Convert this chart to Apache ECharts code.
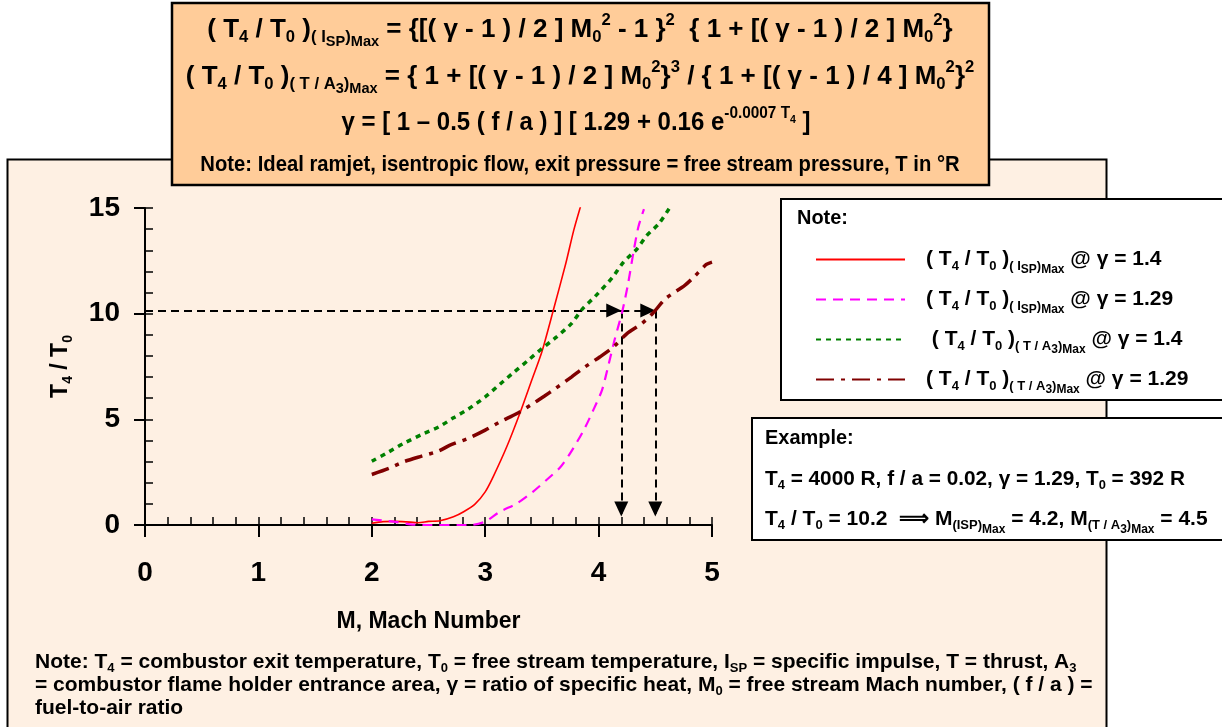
<!DOCTYPE html>
<html><head><meta charset="utf-8">
<script src="https://cdn.jsdelivr.net/npm/echarts@6/dist/echarts.min.js"></script>
<style>html,body{margin:0;padding:0;background:#fff}#c{width:1222px;height:727px}</style>
</head><body><div id="c"></div>
<script>
// ---------- data ----------
const xTicks = [0, 1, 2, 3, 4, 5];
const yTicks = [0, 5, 10, 15];

const ispG14X = [2.0, 2.1, 2.2, 2.3, 2.41, 2.5, 2.6, 2.72, 2.81, 2.91, 3.0, 3.07, 3.19, 3.31, 3.41, 3.5, 3.6, 3.71, 3.78, 3.84];
const ispG14Y = [0.08, 0.16, 0.17, 0.15, 0.11, 0.17, 0.2, 0.39, 0.63, 0.99, 1.57, 2.28, 3.7, 5.35, 6.85, 8.2, 10.15, 12.36, 13.93, 15.06];

const ispG129X = [2.0, 2.19, 2.34, 2.48, 2.87, 3.0, 3.13, 3.28, 3.42, 3.54, 3.66, 3.75, 3.87, 3.95, 4.03, 4.09, 4.14, 4.21, 4.26, 4.31, 4.35, 4.40];
const ispG129Y = [0.27, 0.16, 0.03, 0, 0, 0.16, 0.63, 1.02, 1.57, 2.13, 2.72, 3.4, 4.5, 5.4, 6.38, 7.64, 8.74, 10.13, 11.42, 12.99, 14.09, 14.95];

const taG14X = [2.0, 2.15, 2.28, 2.44, 2.59, 2.72, 2.85, 3.0, 3.13, 3.24, 3.38, 3.5, 3.63, 3.76, 3.86, 3.97, 4.12, 4.22, 4.34, 4.42, 4.53, 4.63];
const taG14Y = [3.02, 3.46, 3.86, 4.28, 4.64, 5.07, 5.48, 6.06, 6.66, 7.17, 7.8, 8.35, 8.9, 9.53, 10.24, 10.82, 11.7, 12.44, 13.07, 13.67, 14.25, 15.04];

const taG129X = [2.0, 2.15, 2.28, 2.44, 2.59, 2.69, 2.85, 3.0, 3.13, 3.28, 3.4, 3.52, 3.62, 3.76, 3.88, 4.01, 4.13, 4.25, 4.38, 4.48, 4.59, 4.76, 4.84, 4.95, 5.0];
const taG129Y = [2.39, 2.68, 2.99, 3.26, 3.5, 3.78, 4.1, 4.49, 4.88, 5.28, 5.67, 6.09, 6.46, 7.0, 7.48, 7.95, 8.42, 9.06, 9.53, 10.03, 10.71, 11.34, 11.73, 12.33, 12.44];

const seriesNames = [
  '(T4 / T0)(ISP)Max @ γ = 1.4',
  '(T4 / T0)(ISP)Max @ γ = 1.29',
  '(T4 / T0)(T / A3)Max @ γ = 1.4',
  '(T4 / T0)(T / A3)Max @ γ = 1.29'
];
const exampleRatio = [10.15];        // drawn level of T4/T0 (labelled 10.2)
const exampleRatioLabel = ['10.2'];
const exampleMach = [4.2, 4.5];      // M(ISP)Max, M(T/A3)Max
const arrowTipY = [0.4];

// ---------- styling helpers ----------
const F = "'Liberation Sans', Arial, sans-serif";
function mkRich(base, L) {
  const c = {fontFamily: F, fontWeight: 'bold', color: '#000', fill: '#000', lineHeight: L};
  const r = (k) => Math.round(base * k);
  return {
    t:  Object.assign({}, c, {fontSize: base}),
    p:  Object.assign({}, c, {fontSize: base, padding: [0, 0, 0, 16]}),
    s:  Object.assign({}, c, {fontSize: r(0.62), padding: [r(0.6), 0, 0, 0]}),
    ss: Object.assign({}, c, {fontSize: r(0.58), padding: [r(0.98), 0, 0, 0]}),
    u:  Object.assign({}, c, {fontSize: r(0.62), padding: [0, 0, r(0.7), 0]}),
    uu: Object.assign({}, c, {fontSize: r(0.45), padding: [0, 0, r(0.25), 0]})
  };
}
function txt(x, y, text, base, L, align, sx) {
  return {
    type: 'text', x: x, y: y, z: 50, scaleX: sx || 1,
    style: {
      text: text, rich: mkRich(base, L),
      fontFamily: F, fontWeight: 'bold', fontSize: base, lineHeight: L,
      fill: '#000', align: align || 'left', verticalAlign: 'middle'
    }
  };
}
const legendLabels = [
  '{p|(} T{s|4} / T{s|0} ){s|( I}{ss|SP}{s|)}{ss|Max} @ γ = 1.4',
  '{p|(} T{s|4} / T{s|0} ){s|( I}{ss|SP}{s|)}{ss|Max} @ γ = 1.29',
  '{p| (} T{s|4} / T{s|0} ){s|( T / A}{ss|3}{s|)}{ss|Max} @ γ = 1.4',
  '{p|(} T{s|4} / T{s|0} ){s|( T / A}{ss|3}{s|)}{ss|Max} @ γ = 1.29'
];

function pairs(xs, ys) { return xs.map((x, i) => [x, ys[i]]); }

const lvl = exampleRatio[0], m1 = exampleMach[0], m2 = exampleMach[1], tip = arrowTipY[0];

const chart = echarts.init(document.getElementById('c'), null, {renderer: 'canvas'});
const axisTxt = {color: '#000', fontFamily: F, fontWeight: 'bold', fontSize: 28};
chart.setOption({
  backgroundColor: '#ffffff',
  animation: false,
  grid: [{left: 145, top: 208, width: 567, height: 317, containLabel: false}],
  xAxis: [
    {type: 'value', gridIndex: 0, position: 'bottom', min: xTicks[0], max: xTicks[xTicks.length - 1], interval: 1,
     axisLine: {lineStyle: {color: '#000', width: 2}},
     axisTick: {inside: false, length: 12, lineStyle: {color: '#000', width: 2}},
     axisLabel: Object.assign({margin: 34, formatter: (v) => xTicks.includes(v) ? String(v) : ''}, axisTxt),
     splitLine: {show: false},
     name: 'M, Mach Number', nameLocation: 'middle', nameGap: 85,
     nameTextStyle: {color: '#000', fontFamily: F, fontWeight: 'bold', fontSize: 23}},
    {type: 'value', gridIndex: 0, position: 'bottom', min: 0, max: 5, interval: 0.2,
     axisLine: {show: false}, axisLabel: {show: false}, splitLine: {show: false},
     axisTick: {inside: true, length: 8, lineStyle: {color: '#000', width: 1.5}}}
  ],
  yAxis: [
    {type: 'value', gridIndex: 0, position: 'left', min: yTicks[0], max: yTicks[yTicks.length - 1], interval: 5,
     axisLine: {show: true, lineStyle: {color: '#000', width: 2}},
     axisTick: {show: true, inside: false, length: 11, lineStyle: {color: '#000', width: 2}},
     axisLabel: Object.assign({margin: 25, formatter: (v) => yTicks.includes(v) ? String(v) : ''}, axisTxt),
     splitLine: {show: false},
     name: 'T{s|4} / T{s|0}', nameLocation: 'middle', nameGap: 70, nameRotate: 90,
     nameTextStyle: {color: '#000', fontFamily: F, fontWeight: 'bold', fontSize: 23, lineHeight: 28, rich: mkRich(23, 28)}},
    {type: 'value', gridIndex: 0, position: 'left', min: 0, max: 15, interval: 1,
     axisLine: {show: false}, axisLabel: {show: false}, splitLine: {show: false},
     axisTick: {show: true, inside: true, length: 8, lineStyle: {color: '#000', width: 1.5}}}
  ],
  legend: {
    data: seriesNames, orient: 'vertical', left: 810, top: 238, itemWidth: 89, itemHeight: 14, itemGap: 7,
    selectedMode: false, backgroundColor: 'transparent',
    itemStyle: {color: 'rgba(0,0,0,0)', borderWidth: 0, opacity: 0},
    textStyle: {color: '#000', fontFamily: F, fontWeight: 'bold', fontSize: 21, lineHeight: 30, rich: mkRich(21, 30)},
    formatter: (name) => legendLabels[seriesNames.indexOf(name)]
  },
  series: [
    {name: seriesNames[0], type: 'line', xAxisIndex: 0, yAxisIndex: 0, symbol: 'none', smooth: 0.25, clip: true,
     data: pairs(ispG14X, ispG14Y), lineStyle: {color: '#ff0000', width: 1.6, type: 'solid'}, itemStyle: {color: '#ff0000'}, z: 5},
    {name: seriesNames[1], type: 'line', xAxisIndex: 0, yAxisIndex: 0, symbol: 'none', smooth: 0.25, clip: true,
     data: pairs(ispG129X, ispG129Y), lineStyle: {color: '#ff00ff', width: 2.2, type: [10, 7]}, itemStyle: {color: '#ff00ff'}, z: 5},
    {name: seriesNames[2], type: 'line', xAxisIndex: 0, yAxisIndex: 0, symbol: 'none', smooth: 0.25, clip: true,
     data: pairs(taG14X, taG14Y), lineStyle: {color: '#008000', width: 3.5, type: [5, 5]}, itemStyle: {color: '#008000'}, z: 5},
    {name: seriesNames[3], type: 'line', xAxisIndex: 0, yAxisIndex: 0, symbol: 'none', smooth: 0.25, clip: true,
     data: pairs(taG129X, taG129Y), lineStyle: {color: '#800000', width: 3.5, type: [18, 7, 4, 7]}, itemStyle: {color: '#800000'}, z: 5,
     markLine: {
       silent: true, symbol: ['none', 'triangle'], symbolSize: [14, 15], symbolOffset: [[0, 0], [0, 7.5]], precision: 2,
       label: {show: false},
       lineStyle: {color: '#000', width: 2, type: [8, 5]},
       itemStyle: {color: '#000'},
       emphasis: {disabled: true},
       data: [
         [{coord: [0, lvl]}, {coord: [m1, lvl]}],
         [{coord: [m1, lvl]}, {coord: [m2, lvl]}],
         [{coord: [m1, lvl]}, {coord: [m1, tip]}],
         [{coord: [m2, lvl]}, {coord: [m2, tip]}]
       ]
     }}
  ],
  graphic: [
    {type: 'rect', z: -10, shape: {x: 7.5, y: 159.5, width: 1099, height: 620}, style: {fill: '#fef0e3', stroke: '#000', lineWidth: 2}},
    {type: 'rect', z: 20, shape: {x: 172, y: 3, width: 817, height: 182}, style: {fill: '#ffcc99', stroke: '#000', lineWidth: 2.5}},
    {type: 'rect', z: 1, shape: {x: 781, y: 199, width: 460, height: 201}, style: {fill: '#ffffff', stroke: '#000', lineWidth: 2}},
    {type: 'rect', z: 1, shape: {x: 752, y: 418, width: 480, height: 122}, style: {fill: '#ffffff', stroke: '#000', lineWidth: 2}},
    txt(580, 30, '( T{s|4} / T{s|0} ){s|( I}{ss|SP}{s|)}{ss|Max} = {[( γ - 1 ) / 2 ] M{s|0}{u|2} - 1 }{u|2}  { 1 + [( γ - 1 ) / 2 ] M{s|0}{u|2}}', 25, 30, 'center', 1.04),
    txt(580, 77, '( T{s|4} / T{s|0} ){s|( T / A}{ss|3}{s|)}{ss|Max} = { 1 + [( γ - 1 ) / 2 ] M{s|0}{u|2}}{u|3} / { 1 + [( γ - 1 ) / 4 ] M{s|0}{u|2}}{u|2}', 25, 30, 'center', 1.04),
    txt(576, 123, 'γ = [ 1 – 0.5 ( f / a ) ] [ 1.29 + 0.16 e{u|-0.0007 T}{uu|4} ]', 25, 30, 'center', 0.96),
    txt(580, 165, 'Note: Ideal ramjet, isentropic flow, exit pressure = free stream pressure, T in °R', 22, 26, 'center', 0.92),
    txt(797, 218, 'Note:', 21, 26, 'left', 0.95),
    txt(765, 438, 'Example:', 21, 26, 'left', 0.95),
    txt(765, 479, 'T{s|4} = 4000 R, f / a = 0.02, γ = 1.29, T{s|0} = 392 R', 21, 30, 'left', 0.99),
    txt(765, 519, 'T{s|4} / T{s|0} = ' + exampleRatioLabel[0] + '  ⟹ M{s|(ISP)}{ss|Max} = ' + m1 + ', M{s|(T / A}{ss|3}{s|)}{ss|Max} = ' + m2, 21, 30, 'left', 1.0),
    txt(35, 662, 'Note: T{s|4} = combustor exit temperature, T{s|0} = free stream temperature, I{s|SP} = specific impulse, T = thrust, A{s|3}', 21, 23, 'left', 1.0),
    txt(35, 685, '= combustor flame holder entrance area, γ = ratio of specific heat, M{s|0} = free stream Mach number, ( f / a ) =', 21, 23, 'left', 1.0),
    txt(35, 708, 'fuel-to-air ratio', 21, 23, 'left', 1.0)
  ]
});
</script></body></html>
